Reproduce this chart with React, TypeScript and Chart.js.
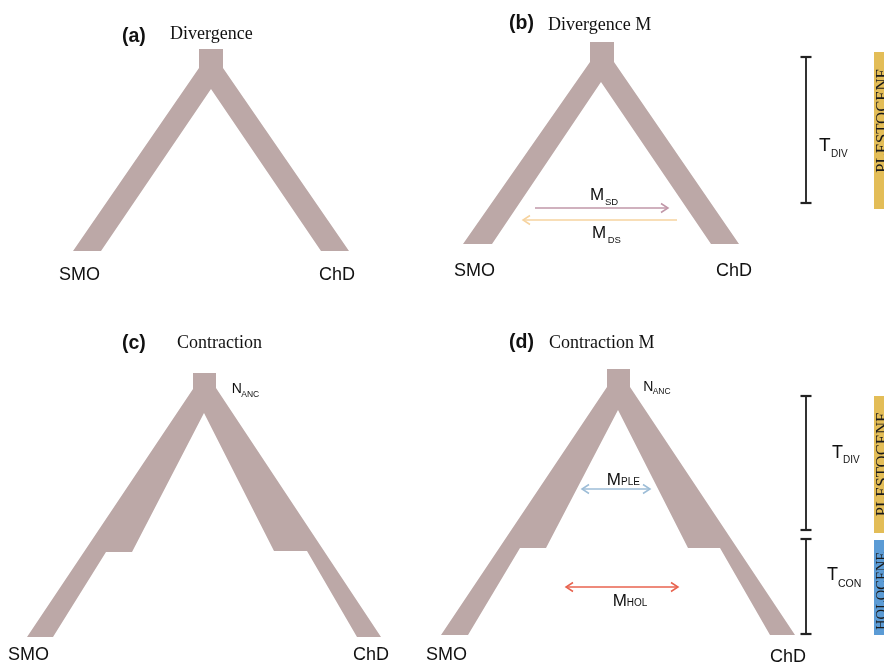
import React, { useEffect, useRef } from "react";
import { Chart, registerables } from "chart.js";

Chart.register(...registerables);

const W = 884;
const H = 663;

// ---- data (diagram coordinates, y grows downward) ----
const treeA = [[199, 49], [223, 49], [223, 68], [349, 251], [321, 251], [211, 89], [101, 251], [73, 251], [199, 68], [199, 49]];
const treeB = [[590, 42], [614, 42], [614, 62], [739, 244], [711, 244], [601, 82], [492, 244], [463, 244], [590, 62], [590, 42]];
const treeC = [[193, 373], [216, 373], [216, 388], [381, 637], [357, 637], [307, 551], [274, 551], [204, 413], [132, 552], [106, 552], [53, 637], [27, 637], [193, 389], [193, 373]];
const treeD = [[607, 369], [630, 369], [630, 387], [795, 635], [770, 635], [720, 548], [688, 548], [618, 410], [546, 548], [520, 548], [468, 635], [441, 635], [607, 387], [607, 369]];
const trees = [treeA, treeB, treeC, treeD];

const bandPleB = [[874, 52], [892, 52], [892, 209], [874, 209], [874, 52]];
const bandPleD = [[874, 396], [892, 396], [892, 533], [874, 533], [874, 396]];
const bandHolD = [[874, 540], [892, 540], [892, 635], [874, 635], [874, 540]];
const bands = [
  { pts: bandPleB, color: "#e3bd57" },
  { pts: bandPleD, color: "#e3bd57" },
  { pts: bandHolD, color: "#5b9bd5" },
];

const timeBars = [
  [[806, 57], [806, 203]],
  [[806, 396], [806, 530]],
  [[806, 539], [806, 634]],
];

const arrows = [
  { from: [535, 208], to: [668, 208], heads: "end", color: "#c197a8" },
  { from: [677, 220], to: [523, 220], heads: "end", color: "#f6d39f" },
  { from: [582, 489], to: [650, 489], heads: "both", color: "#9dbdd7" },
  { from: [566, 587], to: [678, 587], heads: "both", color: "#e8634f" },
];

// [text, x, baseline, size, family, bold]
const labels: [string, number, number, number, string, boolean][] = [
  ["(a)", 122, 41.5, 19.5, "sans", true],
  ["Divergence", 170, 38.5, 18, "serif", false],
  ["(b)", 509, 28.5, 19.5, "sans", true],
  ["Divergence M", 548, 29.5, 18, "serif", false],
  ["(c)", 122, 348.5, 19.5, "sans", true],
  ["Contraction", 177, 348.3, 18, "serif", false],
  ["(d)", 509, 347.5, 19.5, "sans", true],
  ["Contraction M", 549, 348.3, 18, "serif", false],
  ["SMO", 59, 280, 18, "sans", false],
  ["ChD", 319, 280, 18, "sans", false],
  ["SMO", 454, 276, 18, "sans", false],
  ["ChD", 716, 276, 18, "sans", false],
  ["SMO", 8, 660, 18, "sans", false],
  ["ChD", 353, 660, 18, "sans", false],
  ["SMO", 426, 659.5, 18, "sans", false],
  ["ChD", 770, 661.5, 18, "sans", false],
];

// [main, sub, x, baseline, size, subX, subBaseline, subSize]
const subLabels: [string, string, number, number, number, number, number, number][] = [
  ["T", "DIV", 819, 151, 19, 831, 157, 10],
  ["M", "SD", 590, 200, 17, 605, 205, 9.5],
  ["M", "DS", 592, 238.3, 17, 607.7, 243, 9.5],
  ["N", "ANC", 231.7, 392.7, 14, 241.3, 396.7, 8.5],
  ["N", "ANC", 643.3, 390.7, 14, 652.7, 394, 8.5],
  ["M", "PLE", 606.7, 485, 17, 621, 485, 10],
  ["M", "HOL", 612.7, 605.7, 17, 626.7, 605.7, 10],
  ["T", "DIV", 832, 458.3, 18, 843, 463.3, 10],
  ["T", "CON", 827, 580, 18, 838, 586.7, 10.5],
];

// [text, baselineX, centerY, size]
const bandLabels: [string, number, number, number][] = [
  ["PLESTOCENE", 887, 120.5, 16.7],
  ["PLESTOCENE", 887, 464, 16.7],
  ["HOLOCENE", 885.6, 591, 14.5],
];

const BRANCH = "#bca8a7";
const SANS = '"Liberation Sans", Arial, sans-serif';
const SERIF = '"Liberation Serif", "Times New Roman", serif';

const toXY = (pts: number[][]) => pts.map(([x, y]) => ({ x, y }));

const diagramPlugin = {
  id: "diagramExtras",
  afterDatasetsDraw(chart: any) {
    const { ctx, scales } = chart;
    const sx = scales.x;
    const sy = scales.y;
    const px = (v: number) => sx.getPixelForValue(v);
    const py = (v: number) => sy.getPixelForValue(v);
    ctx.save();
    // arrowheads
    for (const a of arrows) {
      const drawHead = (tip: number[], back: number[]) => {
        const tx = px(tip[0]), ty = py(tip[1]);
        const bx = px(back[0]), by = py(back[1]);
        const dx = tx - bx, dy = ty - by;
        const len = Math.hypot(dx, dy) || 1;
        const ux = dx / len, uy = dy / len;
        const nx = -uy, ny = ux;
        const L = 7, Hh = 4.5;
        ctx.beginPath();
        ctx.moveTo(tx - ux * L + nx * Hh, ty - uy * L + ny * Hh);
        ctx.lineTo(tx, ty);
        ctx.lineTo(tx - ux * L - nx * Hh, ty - uy * L - ny * Hh);
        ctx.strokeStyle = a.color;
        ctx.lineWidth = 1.5;
        ctx.stroke();
      };
      drawHead(a.to, a.from);
      if (a.heads === "both") drawHead(a.from, a.to);
    }
    // text
    ctx.fillStyle = "#111";
    ctx.textBaseline = "alphabetic";
    ctx.textAlign = "left";
    for (const [t, x, y, size, fam, bold] of labels) {
      ctx.font = `${bold ? "bold " : ""}${size}px ${fam === "serif" ? SERIF : SANS}`;
      ctx.fillText(t, px(x), py(y));
    }
    for (const [m, s, x, y, size, sxv, syv, ssize] of subLabels) {
      ctx.font = `${size}px ${SANS}`;
      ctx.fillText(m, px(x), py(y));
      ctx.font = `${ssize}px ${SANS}`;
      ctx.fillText(s, px(sxv), py(syv));
    }
    for (const [t, bx, cy, size] of bandLabels) {
      ctx.save();
      ctx.translate(px(bx), py(cy));
      ctx.rotate(-Math.PI / 2);
      ctx.font = `${size}px ${SERIF}`;
      ctx.textAlign = "center";
      ctx.textBaseline = "alphabetic";
      ctx.fillStyle = "#1a1a1a";
      ctx.fillText(t, 0, 0);
      ctx.restore();
    }
    ctx.restore();
  },
};

export default function App() {
  const ref = useRef<HTMLCanvasElement | null>(null);
  useEffect(() => {
    document.body.style.margin = "0";
    const canvas = ref.current;
    if (!canvas) return;
    const polyDs = (pts: number[][], color: string) => ({
      data: toXY(pts),
      borderWidth: 0,
      borderColor: color,
      backgroundColor: color,
      fill: "shape",
      pointRadius: 0,
      tension: 0,
    });
    const datasets: any[] = [];
    for (const t of trees) datasets.push(polyDs(t, BRANCH));
    for (const b of bands) datasets.push(polyDs(b.pts, b.color));
    for (const bar of timeBars) {
      datasets.push({
        data: toXY(bar),
        borderColor: "#333",
        borderWidth: 2,
        fill: false,
        pointStyle: "line",
        pointRadius: 5.5,
        pointBorderWidth: 2.2,
        pointBorderColor: "#222",
        pointBackgroundColor: "#222",
      });
    }
    for (const a of arrows) {
      datasets.push({
        data: toXY([a.from, a.to]),
        borderColor: a.color,
        borderWidth: 1.5,
        fill: false,
        pointRadius: 0,
      });
    }
    const chart = new Chart(canvas, {
      type: "line",
      data: { datasets },
      options: {
        animation: false,
        responsive: false,
        devicePixelRatio: 1,
        layout: { padding: 0, autoPadding: false },
        events: [],
        plugins: { legend: { display: false }, tooltip: { enabled: false }, title: { display: false } },
        scales: {
          x: { type: "linear", min: 0, max: W, display: false },
          y: { type: "linear", min: 0, max: H, reverse: true, display: false },
        },
      },
      plugins: [diagramPlugin],
    } as any);
    return () => chart.destroy();
  }, []);
  return (
    <div style={{ position: "absolute", left: 0, top: 0, width: W, height: H, background: "#fff" }}>
      <canvas ref={ref} width={W} height={H} />
    </div>
  );
}
